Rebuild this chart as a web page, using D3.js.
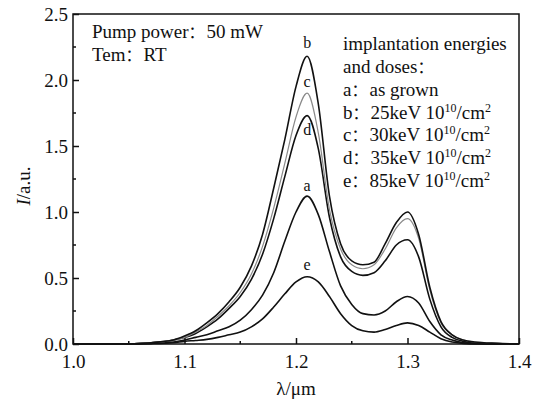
<!DOCTYPE html>
<html>
<head>
<meta charset="utf-8">
<script src="https://cdn.jsdelivr.net/npm/d3@7"></script>
<style>
  body { margin: 0; background: #fff; }
  svg text { font-family: "Liberation Serif", "DejaVu Serif", serif; fill: #111; }
  svg tspan.colon { font-family: "Noto Sans CJK SC", sans-serif; font-size: 16px; }
</style>
</head>
<body>
<svg id="chart" width="540" height="403"></svg>
<script>
// wavelength grid (um)
var lambda = [1.00, 1.04, 1.07, 1.09, 1.10, 1.11, 1.12, 1.13, 1.14, 1.15, 1.16, 1.17, 1.18, 1.19, 1.20, 1.21,
              1.22, 1.23, 1.24, 1.25, 1.26, 1.27, 1.28, 1.29, 1.30, 1.31, 1.32, 1.33, 1.34, 1.35, 1.36, 1.38, 1.40];

// intensities
var curve_a = [0, 0, 0.005, 0.015, 0.03, 0.05, 0.07, 0.10, 0.13, 0.18, 0.26, 0.37, 0.54, 0.78, 1.00, 1.12,
               0.98, 0.70, 0.44, 0.30, 0.23, 0.22, 0.25, 0.32, 0.36, 0.31, 0.17, 0.07, 0.03, 0.01, 0.005, 0, 0];
var curve_b = [0, 0, 0.01, 0.03, 0.06, 0.10, 0.16, 0.23, 0.32, 0.43, 0.59, 0.83, 1.18, 1.55, 1.95, 2.18,
               1.82, 1.12, 0.76, 0.63, 0.60, 0.62, 0.76, 0.92, 1.00, 0.83, 0.43, 0.17, 0.07, 0.03, 0.015, 0.005, 0];
var curve_c = [0, 0, 0.01, 0.03, 0.05, 0.09, 0.14, 0.21, 0.29, 0.39, 0.53, 0.74, 1.03, 1.37, 1.72, 1.90,
               1.60, 1.02, 0.72, 0.60, 0.57, 0.60, 0.72, 0.88, 0.95, 0.80, 0.41, 0.16, 0.07, 0.03, 0.015, 0.005, 0];
var curve_d = [0, 0, 0.01, 0.03, 0.05, 0.08, 0.13, 0.19, 0.27, 0.36, 0.49, 0.68, 0.95, 1.27, 1.58, 1.73,
               1.48, 0.96, 0.66, 0.55, 0.52, 0.54, 0.63, 0.75, 0.79, 0.66, 0.34, 0.13, 0.05, 0.02, 0.01, 0.003, 0];
var curve_e = [0, 0, 0.003, 0.01, 0.02, 0.027, 0.035, 0.05, 0.07, 0.09, 0.13, 0.19, 0.28, 0.38, 0.47, 0.51,
               0.47, 0.36, 0.23, 0.14, 0.10, 0.09, 0.11, 0.14, 0.16, 0.14, 0.09, 0.04, 0.015, 0.005, 0, 0, 0];

var seriesNames = ["e", "a", "d", "c", "b"];
var seriesValues = [curve_e, curve_a, curve_d, curve_c, curve_b];
var seriesColors = ["#111", "#111", "#111", "#8a8a8a", "#111"];
var peakLabels = ["b", "c", "d", "a", "e"];
var peakLabelValues = [2.24, 1.95, 1.58, 1.16, 0.56];

var xTicks = [1.0, 1.1, 1.2, 1.3, 1.4];
var yTicks = [0.0, 0.5, 1.0, 1.5, 2.0, 2.5];

var svg = d3.select("#chart");
const margins = {top: 14, right: 21, bottom: 59, left: 73};
var width = 540, height = 403;

var x = d3.scaleLinear().domain([1.0, 1.4]).range([margins.left, width - margins.right]);
var y = d3.scaleLinear().domain([0, 2.5]).range([height - margins.bottom, margins.top]);

// curves
var line = d3.line()
    .x((d, i) => x(lambda[i]))
    .y(d => y(d))
    .curve(d3.curveMonotoneX);

svg.append("g").selectAll("path")
    .data(seriesValues)
    .join("path")
    .attr("d", d => line(d))
    .attr("fill", "none")
    .attr("stroke", (d, i) => seriesColors[i])
    .attr("stroke-width", (d, i) => i == 3 ? 1.2 : 1.6);

// frame
svg.append("rect")
    .attr("x", x(1.0)).attr("y", y(2.5))
    .attr("width", x(1.4) - x(1.0)).attr("height", y(0) - y(2.5))
    .attr("fill", "none").attr("stroke", "#111").attr("stroke-width", 1.5);

// axes, ticks pointing inward
var xAxis = svg.append("g")
    .attr("transform", "translate(0," + y(0) + ")")
    .call(d3.axisBottom(x).tickValues(xTicks).tickFormat(d3.format(".1f")).tickSizeInner(-6).tickSizeOuter(0).tickPadding(11));
xAxis.append("g").selectAll("line")
    .data([1.05, 1.15, 1.25, 1.35]).join("line")
    .attr("x1", d => x(d)).attr("x2", d => x(d)).attr("y1", 0).attr("y2", -3)
    .attr("stroke", "#111").attr("stroke-width", 1.5);

var yAxis = svg.append("g")
    .attr("transform", "translate(" + x(1.0) + ",0)")
    .call(d3.axisLeft(y).tickValues(yTicks).tickFormat(d3.format(".1f")).tickSizeInner(-6).tickSizeOuter(0).tickPadding(5));
yAxis.append("g").selectAll("line")
    .data([0.25, 0.75, 1.25, 1.75, 2.25]).join("line")
    .attr("x1", 0).attr("x2", 3).attr("y1", d => y(d)).attr("y2", d => y(d))
    .attr("stroke", "#111").attr("stroke-width", 1.5);

svg.selectAll(".domain").remove();
svg.selectAll(".tick line").attr("stroke", "#111").attr("stroke-width", 1.5);
svg.selectAll(".tick text").style("font-size", "19px").attr("fill", "#111");

// axis titles
svg.append("text")
    .attr("x", (x(1.0) + x(1.4)) / 2).attr("y", 395)
    .attr("text-anchor", "middle")
    .style("font-size", "19px")
    .text("λ/μm");

var yTitle = svg.append("text")
    .attr("transform", "translate(30,186) rotate(-90)")
    .attr("text-anchor", "middle")
    .style("font-size", "19px");
yTitle.append("tspan").style("font-style", "italic").text("I");
yTitle.append("tspan").text("/a.u.");

// peak letters
svg.append("g").selectAll("text")
    .data(peakLabels).join("text")
    .attr("x", x(1.21))
    .attr("y", (d, i) => y(peakLabelValues[i]))
    .attr("text-anchor", "middle")
    .style("font-size", "16px")
    .text(d => d);

// text with a full-width colon
function colonText(xPos, yPos, head, tail) {
    var t = svg.append("text").attr("x", xPos).attr("y", yPos).style("font-size", "19px");
    t.append("tspan").text(head);
    t.append("tspan").attr("class", "colon").text("：");
    t.append("tspan").attr("dx", 2).text(tail);
    return t;
}

colonText(92, 38, "Pump power", "50 mW");
colonText(92, 61, "Tem", "RT");

// implantation legend
var legendKeys = ["a", "b", "c", "d", "e"];
var legendText = ["as grown", "25keV ", "30keV ", "35keV ", "85keV "];
svg.append("text").attr("x", 343).attr("y", 50).style("font-size", "19px").text("implantation energies");
colonText(343, 73, "and doses", "");
legendKeys.forEach(function(k, i) {
    var t = colonText(343, 96 + i * 22.7, k, legendText[i]);
    if (i > 0) {
        t.append("tspan").text("10");
        t.append("tspan").attr("dy", -7).style("font-size", "12px").text("10");
        t.append("tspan").attr("dy", 7).text("/cm");
        t.append("tspan").attr("dy", -7).style("font-size", "12px").text("2");
    }
});
</script>
</body>
</html>
